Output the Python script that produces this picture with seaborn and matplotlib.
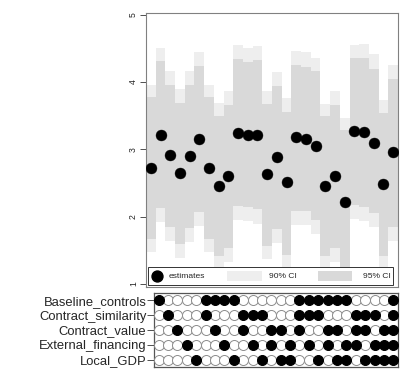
import numpy as np
import pandas as pd
import matplotlib
matplotlib.use("Agg")
import matplotlib.pyplot as plt
import seaborn as sns
from matplotlib.patches import Rectangle

sns.set_theme(style="white")
plt.rcParams['font.family'] = ['Liberation Sans', 'DejaVu Sans']

# ---------------- data ----------------
spec = list(range(1, 27))
estimate = [2.72, 3.22, 2.91, 2.65, 2.90, 3.16, 2.72, 2.46, 2.61, 3.25,
            3.22, 3.22, 2.63, 2.88, 2.51, 3.18, 3.16, 3.05, 2.45, 2.61,
            2.22, 3.27, 3.26, 3.09, 2.48, 2.96]
# outer (lighter) band
outer_lo = [1.47, 1.92, 1.64, 1.39, 1.62, 1.86, 1.47, 1.23, 1.33, 1.95,
            1.93, 1.89, 1.37, 1.61, 1.24, 1.88, 1.88, 1.74, 1.21, 1.33,
            0.96, 1.97, 1.94, 1.85, 1.23, 1.64]
outer_hi = [3.96, 4.51, 4.16, 3.89, 4.17, 4.45, 3.96, 3.69, 3.87, 4.55,
            4.50, 4.53, 3.87, 4.15, 3.76, 4.46, 4.44, 4.36, 3.68, 3.87,
            3.47, 4.55, 4.57, 4.41, 3.74, 4.26]
# inner (darker) band
inner_lo = [1.67, 2.13, 1.84, 1.59, 1.83, 2.07, 1.67, 1.42, 1.54, 2.16,
            2.14, 2.11, 1.57, 1.81, 1.43, 2.09, 2.08, 1.95, 1.41, 1.54,
            1.16, 2.18, 2.15, 2.06, 1.42, 1.85]
inner_hi = [3.77, 4.31, 3.96, 3.69, 3.96, 4.24, 3.77, 3.49, 3.66, 4.34,
            4.30, 4.32, 3.67, 3.94, 3.56, 4.25, 4.23, 4.16, 3.49, 3.66,
            3.28, 4.35, 4.36, 4.20, 3.54, 4.05]

variables = ["Baseline_controls", "Contract_similarity", "Contract_value",
             "External_financing", "Local_GDP"]
baseline_controls   = [1,0,0,0,0, 1,1,1,1,0,0,0,0,0,0, 1,1,1,1,1,1,0,0,0,0, 1]
contract_similarity = [0,1,0,0,0, 1,0,0,0,1,1,1,0,0,0, 1,1,1,0,0,0,1,1,1,0, 1]
contract_value      = [0,0,1,0,0, 0,1,0,0,1,0,0,1,1,0, 1,0,0,1,1,0,1,1,0,1, 1]
external_financing  = [0,0,0,1,0, 0,0,1,0,0,1,0,1,0,1, 0,1,0,1,0,1,1,0,1,1, 1]
local_gdp           = [0,0,0,0,1, 0,0,0,1,0,0,1,0,1,1, 0,0,1,0,1,1,0,1,1,1, 1]

yticks = [1, 2, 3, 4, 5]
legend_labels = ["estimates", "90% CI", "95% CI"]

# ---------------- styles ----------------
LIGHT = "#eeeeee"
DARK = "#d9d9d9"
FRAME = "#808080"

fig = plt.figure(figsize=(4.02, 3.76), dpi=100)
ax = fig.add_axes([0.3632, 0.2367, 0.6269, 0.7287])
axm = fig.add_axes([0.3831, 0.0239, 0.6069, 0.1968])

# ---------------- top panel ----------------
x = np.array(spec)
ax.bar(x, np.array(outer_hi) - np.array(outer_lo), bottom=outer_lo,
       width=1.0, color=LIGHT, linewidth=0, zorder=1)
ax.bar(x, np.array(inner_hi) - np.array(inner_lo), bottom=inner_lo,
       width=1.0, color=DARK, linewidth=0, zorder=2)
df_est = pd.DataFrame({"spec": spec, "estimate": estimate})
sns.scatterplot(data=df_est, x="spec", y="estimate", ax=ax, color="black",
                edgecolor="black", s=62, linewidth=0.3, zorder=5, legend=False)

ax.set_xlim(0.5, 26.5)
ax.set_ylim(0.955, 5.025)
ax.set_yticks(yticks)
ax.set_yticklabels([str(t) for t in yticks])
ax.set_xticks([])
ax.set_xlabel("")
ax.set_ylabel("")
ax.tick_params(axis="y", which="both", left=True, length=4.3, width=0.6,
               color="#333333", labelsize=6.2, pad=1.5, labelrotation=90)
for lab in ax.get_yticklabels():
    lab.set_va("center")
for sp in ax.spines.values():
    sp.set_color(FRAME)
    sp.set_linewidth(0.8)

# manual legend box (Stata-style)
ax.add_patch(Rectangle((0.009, 0.007), 0.970, 0.067, transform=ax.transAxes,
                       facecolor="white", edgecolor="#333333", linewidth=0.7,
                       zorder=6))
ax.scatter([0.045], [0.040], transform=ax.transAxes, s=62, color="black",
           zorder=7)
ax.text(0.091, 0.040, legend_labels[0], transform=ax.transAxes, fontsize=6.1,
        va="center", ha="left", zorder=7)
ax.add_patch(Rectangle((0.321, 0.022), 0.139, 0.036, transform=ax.transAxes,
                       facecolor=LIGHT, edgecolor="none", zorder=7))
ax.text(0.488, 0.040, legend_labels[1], transform=ax.transAxes, fontsize=6.1,
        va="center", ha="left", zorder=7)
ax.add_patch(Rectangle((0.683, 0.022), 0.134, 0.036, transform=ax.transAxes,
                       facecolor=DARK, edgecolor="none", zorder=7))
ax.text(0.861, 0.040, legend_labels[2], transform=ax.transAxes, fontsize=6.1,
        va="center", ha="left", zorder=7)

# ---------------- bottom matrix ----------------
rows = [baseline_controls, contract_similarity, contract_value,
        external_financing, local_gdp]
recs = []
for i, (name, vals) in enumerate(zip(variables, rows)):
    for s_, v in zip(spec, vals):
        recs.append({"spec": s_, "row": i, "included": v})
dm = pd.DataFrame(recs)
sns.scatterplot(data=dm[dm.included == 0], x="spec", y="row", ax=axm,
                color="white", edgecolor="#8c8c8c", s=52, linewidth=0.7,
                legend=False, zorder=3)
sns.scatterplot(data=dm[dm.included == 1], x="spec", y="row", ax=axm,
                color="black", edgecolor="black", s=52, linewidth=0.7,
                legend=False, zorder=4)
axm.set_xlim(0.5, 26.5)
axm.set_ylim(4.5, -0.5)
axm.set_yticks(range(len(variables)))
axm.set_yticklabels(variables)
axm.set_xticks([])
axm.set_xlabel("")
axm.set_ylabel("")
axm.tick_params(axis="y", which="both", left=True, length=5, width=0.6,
                color="#333333", labelsize=9.4, pad=0.5)
for sp in axm.spines.values():
    sp.set_color("#555555")
    sp.set_linewidth(0.9)

fig.savefig("out.png", dpi=100, facecolor="white")
